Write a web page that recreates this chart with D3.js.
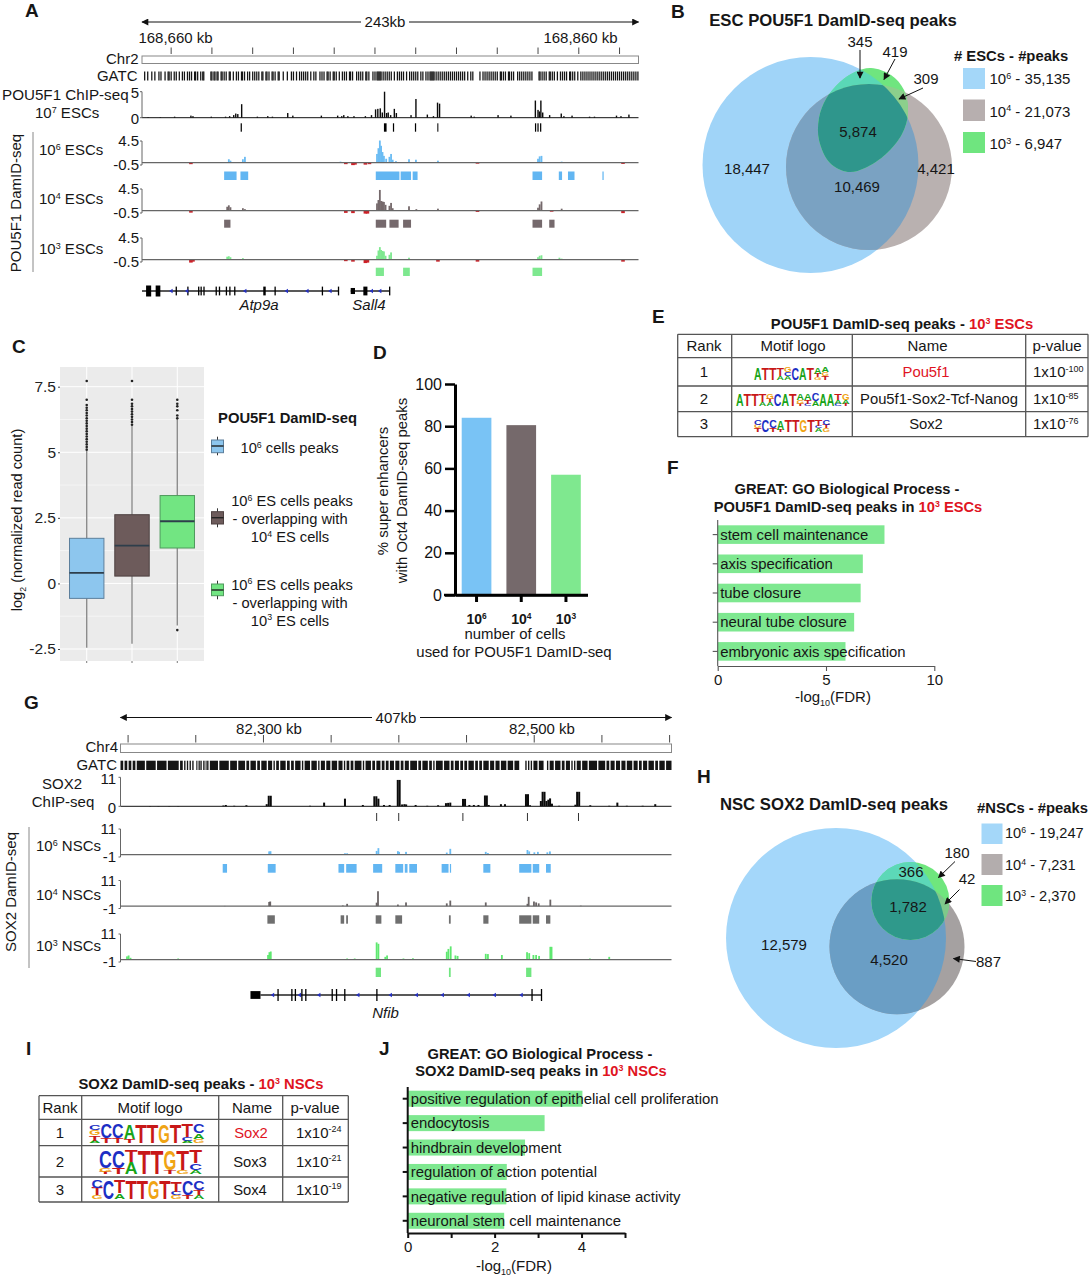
<!DOCTYPE html>
<html><head><meta charset="utf-8">
<script src="https://cdnjs.cloudflare.com/ajax/libs/d3/7.8.5/d3.min.js"></script>
<style>body{margin:0;background:#fff}svg{display:block}text{font-family:"Liberation Sans",Arial,sans-serif;fill:#161616}</style>
</head><body><svg id="c" width="1090" height="1280" viewBox="0 0 1090 1280"></svg>
<script>
// ---------- colours
const BLUE="#6bbcf3",GREY="#75696b",GREEN="#7ee88f",RED="#ce2027",REDTXT="#e0141f";

// ---------- panel A (kb offsets from the left of the window)
const chipA=[[3,.1],[9,.1],[16,.2],[24,.4],[25,.3],[34,.2],[41,.2],[43,.3],[45,.5],[46,.8],[47,.7],[48.9,2.6],[56.6,.2],[61.7,.3],[64,.2],[71.5,.9],[74,.4],[88,.4],[96,.4],[98,.3],[99,.5],[101,.3],[104,.3],[109.6,.3],[112.6,.5],[114.6,1.6],[115.7,1.7],[116.9,1.8],[117.9,1],[119,5],[120,.9],[120.8,1],[122,.5],[123.8,1.7],[124.8,.9],[132,.5],[134.4,3.6],[140,.6],[143,.3],[145,2.9],[146,2.7],[161.5,.4],[163,.2],[174.7,.5],[181,.4],[193,3.3],[194.3,1.5],[195,1.2],[195.7,3.3],[196.6,1],[200,.5],[205.7,.8],[207,.3],[211,.4],[219.6,.2],[222,.2],[232.8,.4],[235,.3],[238.9,.6]];
const ticksChipA=[[48.4,49],[118.7,120],[123.1,123.7],[133.9,134.5],[144.9,145.4],[192.8,193.4],[194,194.6],[195.3,195.9]];
const damA6=[[42.6,.7],[43.4,.4],[49.5,.7],[50.5,1.2],[97.4,.2],[115.3,1.8],[116,3],[116.7,4.6],[117.3,3.5],[118,2.2],[118.7,1.4],[119.8,.8],[121.4,1.2],[122.2,1.8],[123,.6],[124.6,.3],[131,.7],[134.4,.6],[145.2,.4],[194.3,.8],[195.1,1.3],[196,1.4],[205.9,.2],
 [24,-.2],[100,-.2],[103.5,-.4],[104.5,-.3],[109.6,-.3],[111.6,-.2],[164.6,-.1],[236,-.15]];
const damA4=[[41.8,.8],[42.6,1.1],[43.4,.7],[49.5,.5],[50.5,.3],[115.3,1.5],[116,2.2],[116.7,4.3],[117.3,2],[118,1.9],[118.7,1.8],[119.5,1.2],[121.4,1],[122.2,1.6],[123,.5],[131,.9],[134.6,.3],[145.2,.4],[194.3,.6],[195.1,1.3],[196,1.9],[205.9,.4],
 [24,-.3],[100,-.35],[103.5,-.4],[109.6,-.5],[110.6,-.5],[164.6,-.15],[201,-.1],[236,-.4]];
const damA3=[[41.8,.6],[42.6,.7],[43.4,.5],[49.5,.3],[115.3,.8],[116,1.9],[116.7,2.6],[117.3,2],[118,1.8],[118.7,1.7],[119.5,.8],[121.4,1],[122.2,1.5],[131,.4],[194.3,.5],[195.1,.8],[196,.9],[204.8,.4],[205.9,.2],
 [24,-.5],[25,-.3],[100,-.2],[103.5,-.3],[109.6,-.6],[110.6,-.5],[145.2,-.3],[164.6,-.3],[236,-.3]];
const blocksA6=[[40.3,46.4],[48.3,52.1],[114.7,126.3],[126.9,132],[132.8,135.2],[191.6,196.3],[204.5,206.1],[209,212.2],[225.9,226.5]];
const blocksA4=[[40.3,43.4],[114.7,119.8],[121.4,125.9],[128.1,132],[191.6,196.3],[199.8,202.4]];
const blocksA3=[[114.7,118.7],[128.1,131.4],[191.6,196.3]];
const atp9aLine=[0,96.3], sall4Line=[102.4,121.4];
const exonsA=[[2,4.5,1],[6.7,9,1],[16.5,16.9,.8],[22.2,22.6,.8],[27.5,27.9,.8],[28.7,29.1,.8],[30.1,30.5,.8],[36.1,36.5,.8],[37.7,38.1,.8],[41.1,41.5,.8],[42.8,43.2,.8],[45.2,45.6,.8],[59.5,60.7,.8],[65,65.4,.8],[88.2,88.6,.8],[96.1,96.5,.8],[102.4,104.5,.55],[108.6,110.6,.8],[121.2,121.6,.8]];
const chevronsA=[14.3,22,50.5,70.9,81,92.3,112.6,116.7];
const gatcSitesA=[1,2.5,4.5,6,8,9,11,12.5,13,14,15.5,16.5,18,19.5,20.5,22,23,24,25.5,26,27,28.5,29.5,30,33.5,34,35,35.5,36.5,37,38.5,39,40,41,42.5,43,44.5,46,47,48.5,49,50,51.5,52.5,54,55,56,57,58.5,59,60.5,61,62,63.5,64,65,66.5,67,69,71,73,74,75.5,77,78,79,80,81,82.5,84,85,87,88,89,90.5,91,92,93.5,94,95,96.5,98,99,100,101.5,102,103,105,106,107,108,109.5,110,111,113,114,115,115.5,116,116.5,117,118,119,120,121,122,123.5,125,126,127,128,129.5,131,132,133,134,135,136.5,137.5,139,140,141,141.5,142,142.5,143,144,145,146,147,148,149,150,151,152,153,154,155,156,157,158,159.5,161,162,165.5,167,168,169,170,171,172,173,174,175.5,176,177,178,179.5,180,181,182,184,185,186,187,188,189,190,191,194.5,195,196,197,198,199.5,200,201,202,203.5,205,206,207,208,209.5,210,211,212,213.5,215,216,217,218,219,220,221,222,223,224,225,226,227,228,229,230,231,232,233,234,235,236,237,238,239,240,241,242,243];

// ---------- panel G (kb offsets from the left of the window)
const chipG=[[21.8,.1],[28,.1],[36,.1],[42.6,.1],[76,.3],[77.8,.5],[84,.2],[93,.4],[108,.8],[109.5,4],[111,4],[140,.2],[150.4,1.4],[165.8,2.9],[179,.5],[187.5,3.8],[189,3.8],[190.5,2.9],[194.6,.5],[198.8,.5],[204.8,10],[206.2,10],[208,.7],[209.7,.8],[211,.7],[218,.5],[226.6,.2],[234.6,.4],[240.4,1.2],[242,1.3],[243.6,1.4],[253,2.8],[254.5,2.8],[257.7,.5],[261,.5],[264.4,.5],[269.2,4.1],[270.6,4.1],[272,.5],[281,.8],[284,.8],[299.5,4.6],[301,4.6],[302.5,.4],[310.5,2],[311.8,5.5],[313.2,5.5],[314.6,2],[316,2.5],[317.3,3],[318.7,1],[324,.2],[336,.6],[337.3,5.5],[338.8,5.5],[347,.4],[361,.2],[367,1.4],[374,.2],[385.7,.2],[395,.8]];
const ticksChipG=[189.2,205.5,252.9,300.6,338.3];
const damG6=[[77,.1],[109.8,1.4],[110.8,1.5],[165.8,.6],[167.4,.6],[189.2,1.6],[190.5,2.8],[204.9,1.5],[205.8,1.2],[210.9,1.2],[241,.9],[243.6,2.5],[269.8,1.2],[271.4,.7],[300.6,2],[301.9,1.4],[305.7,1],[308.3,1.2],[315.3,1],[317.2,1.4]];
const damG4=[[77,.1],[109.8,1.8],[110.6,2],[164.2,.3],[167.4,1],[189.2,1.5],[190.2,6.4],[204.9,.7],[210.9,1.6],[241,1.2],[243.6,2.4],[269.8,1.6],[300.6,1],[301.5,4],[305.4,2],[307,1.6],[308.9,1.2],[317.5,2.8],[340,.2]];
const damG3=[[4.8,1.4],[6,1.8],[7.4,.8],[42.6,.5],[109,2],[110,3.2],[111,3.5],[167.4,.5],[173,.5],[189.2,7.4],[190.5,6.8],[195.6,1.2],[196.9,1.8],[209,.5],[216,.6],[241,3.4],[242.2,4.6],[243.9,5.7],[247.4,1.8],[249,1.6],[269.8,2.5],[271.4,2.4],[281.7,2],[300.3,3.2],[301.9,2.8],[305,2],[307,2],[309.2,1.6],[317.5,5.5],[318.4,5.5],[346.7,.5],[361,1.2]];
const blocksG6=[[75.5,78.7],[108.8,114.6],[161,165.2],[166.7,174.4],[186.6,193.3],[203,208.8],[210,212],[213.3,219],[237.2,242.3],[243.3,244.2],[268,273.2],[294.5,303.5],[304.5,309.3],[314.3,317.8]];
const blocksG4=[[108.5,114],[162.6,165.2],[166.7,168],[188.5,192.7],[203,208],[242.6,243.9],[268,271.8],[294.5,303.5],[304.5,309.3],[314.3,317.5]];
const blocksG3=[[188.5,192.4],[242.6,243.9],[299.6,303.5]];
const nfibLine=[103.4,310.8];
const exonsG=[[96,103.4,.65],[115.9,116.5,1],[126.1,126.7,1],[128.7,129.3,1],[133.5,134.1,1],[136.4,137,1],[155.9,156.5,1],[159.1,159.7,1],[165.2,165.8,1],[188.9,189.5,1],[303.5,304.1,1],[310.5,311.1,1]];
const chevronsG=[112.4,132.2,146.6,175.4,199.4,218.6,237.8,257,276.2,296];
const gatcRunsG=[[0,2],[3,5],[6,8],[9,11],[12,18],[19,26],[27,34],[35,43],[44,46],[47,48],[49,50],[51,52],[53,54],[56,56.5],[57,57.5],[58,58.5],[59,60],[61,61.5],[62,62.5],[63,63.5],[64,65],[66,72],[73,80],[81,86],[87,92],[93,95],[96,100],[101,103],[104,108],[109,112],[113,114],[115,117],[118,122],[123,125],[126,128],[129,133],[134,135],[136,140],[141,145],[146,147],[148,151],[152,155],[156,160],[161,164],[165,166],[167,169],[170,172],[173,178],[179,180],[181,185],[186,188],[189,192],[193,195],[196,198],[199,202],[203,206],[207,209],[210,213],[214,219],[220,222],[223,227],[228,230],[231,232],[233,238],[239,243],[244,246],[247,250],[251,253],[254,256],[257,261],[262,264],[265,267],[268,272],[273,276],[277,280],[281,285],[286,290],[291,294.5],[299,300],[301,302],[303,304],[305,308],[309,312.5],[315,316],[317,320],[321,325],[326,328],[329,332],[333,334],[335,336],[337,340],[341,345],[346,352],[353,358],[359,361],[362,365],[366,369],[370,373],[374,378],[379,382],[383,385],[386,389],[390,394],[395,397],[398,402],[403,407]];

// ---------- panel C
const boxNames=["10^6","10^4","10^3"];
const boxFills=["#8dc6ee","#6d5b5b","#72e582"];
const boxStats=[{lo:-2.45,q1:-.57,med:.4,q3:1.72,hi:5.05},{lo:-2.3,q1:.28,med:1.44,q3:2.62,hi:6.0},{lo:-1.6,q1:1.35,med:2.37,q3:3.35,hi:6.3}];
const boxOut=[[5.1,5.2,5.3,5.4,5.5,5.6,5.7,5.8,5.9,6,6.1,6.2,6.3,6.4,6.5,6.6,6.7,6.8,7,7.72],[6.05,6.15,6.25,6.35,6.45,6.55,6.65,6.75,6.85,7,7.72],[-1.78,6.3,6.4,6.6,6.75,6.85,7]];
// ---------- panel D
const seCells=["10^6","10^4","10^3"], sePct=[84,80.5,57], seFill=["#79c3f5","#75696b","#7fe88f"];
// ---------- panels F, J
const goF=["stem cell maintenance","axis specification","tube closure","neural tube closure","embryonic axis specification"], goFv=[7.7,6.7,6.6,6.3,5.9];
const goJ=["positive regulation of epithelial cell proliferation","endocytosis","hindbrain development","regulation of action potential","negative regulation of lipid kinase activity","neuronal stem cell maintenance"], goJv=[4.02,3.15,2.7,2.28,2.27,2.22];
// ---------- tables E, I
const motifE=[["1","Pou5f1","1x10^-100"],["2","Pou5f1-Sox2-Tcf-Nanog","1x10^-85"],["3","Sox2","1x10^-76"]];
const logoE=[["A1","T1","T1","T.7A.3","G.4C.3A.3","C1","A1","T1","A.5T.3G.2","A.4G.3T.3"],
 ["A1","T1","T1","T.7A.3","G.4T.3A.3","C1","A1","T1","A.5G.3T.2","A.5T.3C.2","C.6A.4","A1","A1","T.5A.3C.2","G.5A.3T.2"],
 ["C.4G.3T.3","C1","C.7T.3","A.8T.2","T1","T1","G1","T1","T.5C.2A.3","C.4T.3G.3"]];
const motifI=[["1","Sox2","1x10^-24"],["2","Sox3","1x10^-21"],["3","Sox4","1x10^-19"]];
const logoI=[["C.3G.3T.3A.1","C.75T.25","C.75T.25","A.8T.2","T1","T1","G1","T1","T.7C.2A.1","C.5A.3G.2"],
 ["C.75G.15T.1","C.75T.25","T.5A.5","T1","T1","G.85T.15","T.85G.15","T.55C.3A.15"],
 ["C.4T.4G.2","C1","T.7A.3","T1","T1","G1","T1","T.6C.2G.2","C.8T.2","C.5T.3A.2"]];
// ---------- venn labels
const legendB=["10^6 - 35,135","10^4 - 21,073","10^3 - 6,947"], legendH=["10^6 - 19,247","10^4 - 7,231","10^3 - 2,370"];
const venFill=["#a4d7f9","#b7afaf","#6fe57f"];

// ---------- helpers
const svg=d3.select("#c");
const defs=svg.append("defs");
defs.append("marker").attr("id","ah").attr("viewBox","0 0 10 10").attr("refX",9).attr("refY",5).attr("markerWidth",9).attr("markerHeight",7).attr("markerUnits","userSpaceOnUse").attr("orient","auto-start-reverse").append("path").attr("d","M0,0L10,5L0,10z").attr("fill","#111");
function T(x,y,s,o={}){
  const size=o.size||15;
  const t=(o.g||svg).append("text").attr("font-size",size).attr("text-anchor",o.a||"start");
  if(o.rot!=null)t.attr("transform",`translate(${x},${y}) rotate(${o.rot})`);else t.attr("x",x).attr("y",y+size*.35);
  if(o.rot!=null)t.attr("dy",size*.35);
  if(o.b)t.attr("font-weight","bold");
  if(o.i)t.attr("font-style","italic");
  let shift=0;
  const chunks=String(s).split("|");
  chunks.forEach(ch=>{
    let fill=o.fill; if(ch[0]==="!"){fill=REDTXT;ch=ch.slice(1);}
    ch.split(/(\^-?\d+|_\d+)/).filter(d=>d!=="").forEach(p=>{
      const sp=t.append("tspan");
      if(fill)sp.style("fill",fill);
      let want=0,txt=p;
      if(p[0]==="^"){want=-size*.36;txt=p.slice(1);sp.attr("font-size",size*.6);}
      else if(p[0]==="_"){want=size*.25;txt=p.slice(1);sp.attr("font-size",size*.6);}
      sp.attr("dy",want-shift);shift=want;sp.text(txt);
    });
  });
  return t;
}
function L(x1,y1,x2,y2,c="#111",w=1,g=svg){return g.append("line").attr("x1",x1).attr("y1",y1).attr("x2",x2).attr("y2",y2).attr("stroke",c).attr("stroke-width",w);}
function arrow(x1,y1,x2,y2){return L(x1,y1,x2,y2,"#111",1).attr("marker-end","url(#ah)");}
function R(x,y,w,h,f,g=svg){return g.append("rect").attr("x",x).attr("y",y).attr("width",w).attr("height",h).attr("fill",f);}

function browser(cfg){
  const x=d3.scaleLinear().domain([0,cfg.span]).range(cfg.range);
  const gx=d3.scaleLinear().domain([cfg.start,cfg.start+cfg.span]).range(cfg.range);
  // ruler
  const aw=L(cfg.range[0],cfg.rulerY,cfg.range[1],cfg.rulerY);aw.attr("marker-end","url(#ah)").attr("marker-start","url(#ah)");
  R(cfg.titleX-24,cfg.rulerY-8,48,16,"#fff");
  T(cfg.titleX,cfg.rulerY,cfg.title,{a:"middle"});
  cfg.kbTicks.forEach(k=>L(gx(k),cfg.tickY[0],gx(k),cfg.tickY[1],"#333",.9));
  cfg.kbLabels.forEach(l=>T(l[1],cfg.kbLabelY,l[0],{a:"middle"}));
  svg.append("rect").attr("x",cfg.range[0]).attr("y",cfg.boxY[0]).attr("width",cfg.range[1]-cfg.range[0]).attr("height",cfg.boxY[1]-cfg.boxY[0]).attr("fill","#fff").attr("stroke","#888").attr("stroke-width",1);
  T(cfg.labelR,cfg.chrLabelY,cfg.chr,{a:"end"});
  T(cfg.labelR-1,cfg.gatcLabelY,"GATC",{a:"end"});
  // GATC
  svg.append("g").selectAll("rect").data(cfg.gatc).join("rect")
    .attr("x",d=>x(d[0])).attr("width",d=>Math.max(.8,x(d[1])-x(d[0]))).attr("y",cfg.gatcY[0]).attr("height",cfg.gatcY[1]-cfg.gatcY[0]).attr("fill","#151515");
  // ChIP
  const cy=d3.scaleLinear().domain([0,cfg.chipMax]).range(cfg.chipY);
  track(x,cy,cfg.chip,"#0b0b0b",cfg.barW,"#111");
  L(cfg.range[0],cy(0),cfg.range[1],cy(0),"#111",1);
  sideAxis(cfg.range[0],cy(0),cy(cfg.chipMax));
  T(cfg.scaleR,cfg.chipY[1]+1,cfg.chipMax,{a:"end"});T(cfg.scaleR,cfg.chipY[0]+1,"0",{a:"end"});
  // DamID
  cfg.dam.forEach(d=>{
    const y=d3.scaleLinear().domain(cfg.damDomain).range(d.y);
    track(x,y,d.data,d.c,cfg.barW2,RED);
    L(cfg.range[0],y(0),cfg.range[1],y(0),"#666",1.1);
    sideAxis(cfg.range[0],d.y[0],d.y[1]);
    T(cfg.scaleR,d.y[1],cfg.damDomain[1],{a:"end"});T(cfg.scaleR,d.y[0],cfg.damDomain[0],{a:"end"});
    T(d.labelX,d.labelY,d.label);
    svg.append("g").selectAll("rect").data(d.blocks).join("rect").attr("x",b=>x(b[0])).attr("width",b=>Math.max(1,x(b[1])-x(b[0]))).attr("y",d.blockY[0]).attr("height",d.blockY[1]-d.blockY[0]).attr("fill",d.bc);
  });
  L(cfg.sepX,cfg.sepY[0],cfg.sepX,cfg.sepY[1],"#888",1);
  T(cfg.rotX,cfg.rotY,cfg.rotLabel,{a:"middle",rot:-90,size:15});
  return x;
}
function track(x,y,data,c,w,neg){
  svg.append("g").selectAll("rect").data(data).join("rect")
   .attr("x",d=>x(d[0])-(d[1]<0?w:w/2)).attr("width",d=>d[1]<0?w*2:w)
   .attr("y",d=>Math.min(y(0),y(d[1]))).attr("height",d=>Math.abs(y(d[1])-y(0))+(d[1]<0?.6:0))
   .attr("fill",d=>d[1]<0?neg:c);
}
function sideAxis(x,y0,y1){L(x,y0,x,y1,"#666",1);L(x-2,y1,x,y1,"#666",1);L(x-2,y0,x,y0,"#666",1);}
function genes(x,lines,exons,chev,y,hh){
  lines.forEach(l=>L(x(l[0]),y,x(l[1]),y,"#222",1.4));
  svg.append("g").selectAll("rect").data(exons).join("rect").attr("x",d=>x(d[0])).attr("width",d=>Math.max(1.3,x(d[1])-x(d[0]))).attr("y",d=>y-hh*d[2]).attr("height",d=>2*hh*d[2]).attr("fill","#000");
  svg.append("g").selectAll("path").data(chev).join("path").attr("d",d=>`M${x(d)-2},${y}L${x(d)+1.5},${y-2.2}L${x(d)+1.5},${y+2.2}z`).attr("fill","#2530c0");
}

// ---------- A
const xA=browser({span:243.6,start:168645.7,range:[142,638.5],rulerY:22,title:"243kb",titleX:385,
 kbTicks:d3.range(168660,168881,20),tickY:[47.5,54],kbLabels:[["168,660 kb",175.5],["168,860 kb",580.5]],kbLabelY:38,
 boxY:[56,63.5],chr:"Chr2",chrLabelY:59,gatcLabelY:76,labelR:138.5,gatc:gatcSitesA.map(d=>[d,d+.62]),gatcY:[71.5,80.5],
 chip:chipA,chipMax:5,chipY:[117.7,91.7],barW:1.4,barW2:1.8,scaleR:139,damDomain:[-.5,4.5],
 dam:[{data:damA6,c:BLUE,bc:"#62b6f2",y:[165,141],label:"10^6 ESCs",labelX:39,labelY:150,blocks:blocksA6,blockY:[171.5,180]},
      {data:damA4,c:GREY,bc:"#75696c",y:[213,189],label:"10^4 ESCs",labelX:39,labelY:199,blocks:blocksA4,blockY:[219.7,227.7]},
      {data:damA3,c:GREEN,bc:"#7ee88f",y:[262,238],label:"10^3 ESCs",labelX:39,labelY:249,blocks:blocksA3,blockY:[267.7,276]}],
 sepX:33,sepY:[132,272],rotX:21,rotY:203,rotLabel:"POU5F1 DamID-seq"});
T(2,95,"POU5F1 ChIP-seq",{size:15.2});T(35,113,"10^7 ESCs");
chipATicks();
function chipATicks(){svg.append("g").selectAll("rect").data(ticksChipA).join("rect").attr("x",d=>xA(d[0])).attr("width",d=>Math.max(.9,xA(d[1])-xA(d[0]))).attr("y",123.3).attr("height",8.4).attr("fill","#000");}
genes(xA,[atp9aLine,sall4Line],exonsA,chevronsA,291,5.5);
T(259,305,"Atp9a",{a:"middle",i:1});T(369,305,"Sall4",{a:"middle",i:1});

// ---------- G
const xG=browser({span:407,start:82194.4,range:[120.5,671.5],rulerY:717.5,title:"407kb",titleX:396,
 kbTicks:d3.range(82200,82601,50),tickY:[735,742.5],kbLabels:[["82,300 kb",269],["82,500 kb",542]],kbLabelY:729,
 boxY:[744,752.5],chr:"Chr4",chrLabelY:747,gatcLabelY:765,labelR:118,gatc:gatcRunsG,gatcY:[760.7,770],
 chip:chipG,chipMax:11,chipY:[806.3,777.3],barW:2,barW2:1.8,scaleR:116,damDomain:[-1,11],
 dam:[{data:damG6,c:"#6bbcf3",bc:"#62b6f2",y:[857,829],label:"10^6 NSCs",labelX:36,labelY:846,blocks:blocksG6,blockY:[864,872.7]},
      {data:damG4,c:"#6b6566",bc:"#6f6f6f",y:[908.5,880.5],label:"10^4 NSCs",labelX:36,labelY:895,blocks:blocksG4,blockY:[915.3,923.7]},
      {data:damG3,c:"#5fe870",bc:"#70e680",y:[962,934],label:"10^3 NSCs",labelX:36,labelY:946,blocks:blocksG3,blockY:[967.7,977]}],
 sepX:29,sepY:[827,968],rotX:16,rotY:892,rotLabel:"SOX2 DamID-seq"});
T(62,784,"SOX2",{a:"middle"});T(63,802,"ChIP-seq",{a:"middle"});
svg.append("g").selectAll("rect").data(ticksChipG).join("rect").attr("x",d=>xG(d)-.5).attr("width",1).attr("y",813).attr("height",8).attr("fill","#333");
genes(xG,[nfibLine],exonsG,chevronsG,995,6);
T(385.5,1012.5,"Nfib",{a:"middle",i:1});

// ---------- B & H venns
function venn(cfg){
  const id=cfg.id;
  const mkClip=(n,shape)=>{const c=defs.append("clipPath").attr("id",id+n);shape(c);};
  const blueS=s=>s.append("circle").attr("cx",cfg.b[0]).attr("cy",cfg.b[1]).attr("r",cfg.b[2]);
  const greyS=s=>s.append("circle").attr("cx",cfg.g[0]).attr("cy",cfg.g[1]).attr("r",cfg.g[2]);
  const greenS=cfg.gp?(s=>s.append("path").attr("d",d3.line().curve(d3.curveCatmullRomClosed)(cfg.gp))):(s=>s.append("circle").attr("cx",cfg.gc[0]).attr("cy",cfg.gc[1]).attr("r",cfg.gc[2]));
  mkClip("b",blueS);mkClip("g",greyS);mkClip("n",greenS);
  const clip=(names)=>{let g=svg;names.forEach(n=>{g=g.append("g").attr("clip-path",`url(#${id}${n})`);});return g;};
  const c=cfg.cols;
  blueS(svg).attr("fill",c.b);greyS(svg).attr("fill",c.g);
  greyS(clip(["b"])).attr("fill",c.bg);
  greenS(svg).attr("fill",c.n);
  greenS(clip(["b"])).attr("fill",c.bn);
  greenS(clip(["g"])).attr("fill",c.gn);
  greenS(clip(["b","g"])).attr("fill",c.bgn);
}
venn({id:"B",b:[810.5,165,108],g:[869,167,83],
 gp:[[871,68],[891,75],[904,90],[908,113],[902,134],[886,154],[865,168],[848,172],[830,163],[819,140],[819,118],[826,99],[840,82],[855,72]],
 cols:{b:"#a0d4f8",g:"#b9b1b0",bg:"#7aa2c2",n:"#6fe57f",bn:"#5ad8b6",gn:"#8ccf8c",bgn:"#2f968c"}});
venn({id:"H",b:[836,938,110],g:[897,946.7,67.5],gc:[910.4,901,39],
 cols:{b:"#a4d7fa",g:"#a5a1a1",bg:"#6a9ec5",n:"#6fe67d",bn:"#5cd8b8",gn:"#7fc98a",bgn:"#2f998b"}});
arrow(860,50,860,78);arrow(895,59,884,79.5);arrow(923,88,899,99);
arrow(955,861.5,938.5,877.5);arrow(959.5,889.5,945,904);arrow(976,961.5,953.5,958.5);
T(833,20,"ESC POU5F1 DamID-seq peaks",{a:"middle",b:1,size:16.7});
T(860,42,"345",{a:"middle"});T(895,52,"419",{a:"middle"});T(926,79,"309",{a:"middle"});
T(858,132,"5,874",{a:"middle"});T(747,169,"18,447",{a:"middle"});T(857,187,"10,469",{a:"middle"});T(936,169,"4,421",{a:"middle"});
T(954,56,"# ESCs - #peaks",{b:1,size:14.8});
[[68,89,79],[99.5,121,111.5],[132,153,144]].forEach((r,i)=>{R(963,r[0],22,r[1]-r[0],venFill[i]);T(989.5,r[2],legendB[i],{size:15});});
T(834,804,"NSC SOX2 DamID-seq peaks",{a:"middle",b:1,size:16.7});
T(977,808,"#NSCs - #peaks",{b:1,size:14.8});
[[823.5,844,833],[854,875,865],[885,906,896]].forEach((r,i)=>{R(981.5,r[0],21,r[1]-r[0],i==1?"#b3adad":venFill[i]);T(1005,r[2],legendH[i],{size:14.6});});
T(957,853,"180",{a:"middle"});T(911,872,"366",{a:"middle"});T(967,879,"42",{a:"middle"});T(908,907,"1,782",{a:"middle"});
T(784,945,"12,579",{a:"middle"});T(889,960,"4,520",{a:"middle"});T(988.5,962,"887",{a:"middle"});

// ---------- C
(function(){
 const left=60,right=204,top=367,bot=661;
 const y=d3.scaleLinear().domain([-2.5,7.5]).range([649,386.7]);
 const x=d3.scaleBand().domain(boxNames).range([left,right]).paddingInner(.24).paddingOuter(.21);
 R(left,top,right-left,bot-top,"#ebebeb");
 const maj=[-2.5,0,2.5,5,7.5],min=[-1.25,1.25,3.75,6.25];
 maj.forEach(v=>L(left,y(v),right,y(v),"#fff",1));min.forEach(v=>L(left,y(v),right,y(v),"#fff",.5));
 boxNames.forEach(n=>L(x(n)+x.bandwidth()/2,top,x(n)+x.bandwidth()/2,bot,"#fff",1));
 const stroke=["#5c7f9c","#4e4141","#4f9a5d"];
 boxNames.forEach((n,i)=>{
  const s=boxStats[i],cx=x(n)+x.bandwidth()/2,w=x.bandwidth();
  L(cx,y(s.lo),cx,y(s.hi),"#8b8b8b",1.4);
  boxOut[i].forEach(v=>svg.append("circle").attr("cx",cx).attr("cy",y(v)).attr("r",1.3).attr("fill","#222"));
  svg.append("rect").attr("x",x(n)).attr("width",w).attr("y",y(s.q3)).attr("height",y(s.q1)-y(s.q3)).attr("fill",boxFills[i]).attr("stroke",stroke[i]).attr("stroke-width",1);
  L(x(n),y(s.med),x(n)+w,y(s.med),"#2e3e4b",1.8);
  L(cx,bot,cx,bot+2,"#555",.8);
 });
 const ax=svg.append("g").attr("transform",`translate(${left},0)`).call(d3.axisLeft(y).tickValues(maj).tickSize(2).tickFormat(d=>d));
 ax.select(".domain").remove();ax.selectAll("line").attr("stroke","#444");
 ax.selectAll("text").attr("font-size",15.5).style("fill","#222").attr("x",-4);
 T(22,520,"log_2 (normalized read count)",{a:"middle",rot:-90,size:14.6});
 T(287.5,418,"POU5F1 DamID-seq",{a:"middle",b:1,size:14.8});
 [[440,452.7,446,436.7,455.3],[511.7,524,517.7,508.3,527.3],[584,595.7,590,580.7,599.3]].forEach((k,i)=>{
   L(217.5,k[3],217.5,k[4],"#333",1);
   svg.append("rect").attr("x",211.5).attr("width",12).attr("y",k[0]).attr("height",k[1]-k[0]).attr("fill",boxFills[i]).attr("stroke",stroke[i]);
   L(211.5,k[2],223.5,k[2],"#222",1.4);
 });
 T(289.5,448,"10^6 cells peaks",{a:"middle",size:14.7});
 T(292,501,"10^6 ES cells peaks",{a:"middle",size:14.7});T(290,519,"- overlapping with",{a:"middle",size:14.7});T(290,537,"10^4 ES cells",{a:"middle",size:14.7});
 T(292,584.5,"10^6 ES cells peaks",{a:"middle",size:14.7});T(290,602.5,"- overlapping with",{a:"middle",size:14.7});T(290,620.5,"10^3 ES cells",{a:"middle",size:14.7});
})();

// ---------- D
(function(){
 const y=d3.scaleLinear().domain([0,100]).range([595,384]);
 const x=d3.scaleBand().domain(seCells).range([455,587.5]).paddingInner(.336).paddingOuter(.15);
 svg.append("g").selectAll("rect").data(sePct).join("rect").attr("x",(d,i)=>x(seCells[i])).attr("width",x.bandwidth()).attr("y",d=>y(d)).attr("height",d=>y(0)-y(d)).attr("fill",(d,i)=>seFill[i]);
 const ay=svg.append("g").attr("transform","translate(455,0)").call(d3.axisLeft(y).tickValues([0,20,40,60,80,100]).tickSize(10).tickSizeOuter(0));
 ay.select(".domain").attr("stroke","#000").attr("stroke-width",3);ay.selectAll("line").attr("stroke","#000").attr("stroke-width",2.5);
 ay.selectAll("text").attr("font-size",16).style("fill","#111").attr("x",-13);
 const ax=svg.append("g").attr("transform","translate(0,595)").call(d3.axisBottom(x).tickSize(7).tickSizeOuter(0).tickFormat(""));
 ax.select(".domain").attr("stroke","#000").attr("stroke-width",2.5);ax.selectAll("line").attr("stroke","#000").attr("stroke-width",3);
 L(444,595,588,595,"#000",2.5);
 seCells.forEach(c=>T(x(c)+x.bandwidth()/2,619,c,{a:"middle",b:1,size:14}));
 T(515,634,"number of cells",{a:"middle",size:14.9});T(514,652,"used for POU5F1 DamID-seq",{a:"middle",size:14.9});
 T(388,491,"% super enhancers",{a:"middle",rot:-90,size:14.9});T(407,490.5,"with Oct4 DamID-seq peaks",{a:"middle",rot:-90,size:14.9});
})();

// ---------- tables
function motifLogo(x0,x1,y0,y1,logo){
 const w=(x1-x0)/logo.length,col={A:"#17a417",C:"#1c2fc4",G:"#f0a414",T:"#c81818"};
 logo.forEach((st,i)=>{
  let yy=y1; const parts=[...st.matchAll(/([ACGT])(\d*\.?\d+)/g)].map(m=>[m[1],+m[2]]).reverse();
  parts.forEach(p=>{
   const h=(y1-y0)*p[1];
   const t=svg.append("text").attr("font-size",100).attr("font-weight","bold").text(p[0]).style("fill",col[p[0]]);
   const adv=t.node().getComputedTextLength();
   t.attr("transform",`translate(${x0+i*w},${yy}) scale(${w/adv},${h/71.6})`);
   yy-=h;
  });
 });
}
function table(xs,ys,head,headX,rows,cols,logos,logoBox,title,titleX,titleY,titleSize){
 T(titleX,titleY,title,{a:"middle",b:1,size:titleSize});
 xs.forEach(x=>L(x,ys[0],x,ys[ys.length-1],"#555",1.3));
 ys.forEach(y=>L(xs[0],y,xs[xs.length-1],y,"#555",1.3));
 head.forEach((h,i)=>T(headX[i],(ys[0]+ys[1])/2,h,{a:"middle"}));
 rows.forEach((r,j)=>{
  const cy=(ys[j+1]+ys[j+2])/2;
  T(headX[0],cy,r[0],{a:"middle"});
  T(cols.name[j],cy,r[1],{a:"middle",fill:j==0?REDTXT:null,size:14.8});
  T(cols.p,cy,r[2]);
  const b=logoBox[j];motifLogo(b[0],b[1],b[2],b[3],logos[j]);
 });
}
table([677.7,731.7,852.3,1025.7,1088],[334.3,357.7,386,411.7,436.7],["Rank","Motif logo","Name","p-value"],[704,793,927.5,1057],motifE,{name:[926,939,926],p:1033},logoE,
 [[754,829,367.5,379.5],[736,849.5,394,406],[754,830,420,432]],"POU5F1 DamID-seq peaks - |!10^3 ESCs",902,324,14.8);
table([39,81.7,218.7,282.7,348.3],[1095.7,1119.3,1145.7,1177,1202],["Rank","Motif logo","Name","p-value"],[60,150,252,315],motifI,{name:[251,250,250],p:296},logoI,
 [[89,204.5,1124,1142.5],[99,202,1150.5,1174],[91.5,204.5,1180.5,1199]],"SOX2 DamID-seq peaks - |!10^3 NSCs",201,1084,14.8);

// ---------- F, J bar charts
function goBars(cfg){
 const x=d3.scaleLinear().domain([0,cfg.max]).range(cfg.xr);
 const y=d3.scaleBand().domain(cfg.names).range(cfg.yr).paddingInner(cfg.pad).paddingOuter(cfg.pad/2);
 svg.append("g").selectAll("rect").data(cfg.vals).join("rect").attr("x",x(0)).attr("width",d=>x(d)-x(0)).attr("y",(d,i)=>y(cfg.names[i])).attr("height",y.bandwidth()).attr("fill","#7ee890");
 const ay=svg.append("g").attr("transform",`translate(${x(0)},0)`).call(d3.axisLeft(y).tickSize(5).tickSizeOuter(0).tickFormat(""));
 ay.select(".domain").attr("stroke",cfg.stroke).attr("stroke-width",cfg.sw).attr("d",`M0,${cfg.axTop}V${cfg.axBot}`);
 ay.selectAll("line").attr("stroke",cfg.stroke).attr("stroke-width",cfg.sw);
 const ax=svg.append("g").attr("transform",`translate(0,${cfg.axBot})`).call(d3.axisBottom(x).tickValues(cfg.ticks).tickSize(5).tickSizeOuter(0).tickFormat(d=>cfg.labs.includes(d)?d:""));
 ax.select(".domain").attr("stroke",cfg.stroke).attr("stroke-width",cfg.sw);ax.selectAll("line").attr("stroke",cfg.stroke).attr("stroke-width",cfg.sw);
 ax.selectAll("text").attr("font-size",15).style("fill","#161616");
 cfg.names.forEach(n=>T(x(0)+cfg.lx,y(n)+y.bandwidth()/2,n,{size:14.9}));
 T(cfg.xlab[0],cfg.xlab[1],"-log_10(FDR)",{a:"middle"});
 T(cfg.t1[0],cfg.t1[1],"GREAT: GO Biological Process -",{a:"middle",b:1,size:14.7});
 T(cfg.t2[0],cfg.t2[1],cfg.t2[2],{a:"middle",b:1,size:14.7});
}
goBars({names:goF,vals:goFv,max:10,xr:[717.7,934.3],yr:[520,666],pad:.363,axTop:520,axBot:666,stroke:"#555",sw:1.1,ticks:[0,5,10],labs:[0,5,10],lx:2.5,xlab:[833,697],t1:[847,489],t2:[848,507,"POU5F1 DamID-seq peaks in |!10^3 ESCs"]});
goBars({names:goJ,vals:goJv,max:5,xr:[407.7,625],yr:[1086.5,1233],pad:.344,axTop:1087,axBot:1233,stroke:"#111",sw:2,ticks:[0,1,2,3,4,5],labs:[0,2,4],lx:3,xlab:[514,1266],t1:[540,1054],t2:[541,1071,"SOX2 DamID-seq peaks in |!10^3 NSCs"]});

// ---------- panel letters
[["A",25,10],["B",671,11],["C",12,346],["D",373,352],["E",652,316],["F",667,467],["G",24,702],["H",697,776],["I",26,1048],["J",379,1048]]
 .forEach(p=>T(p[1],p[2],p[0],{b:1,size:19}));
</script></body></html>
